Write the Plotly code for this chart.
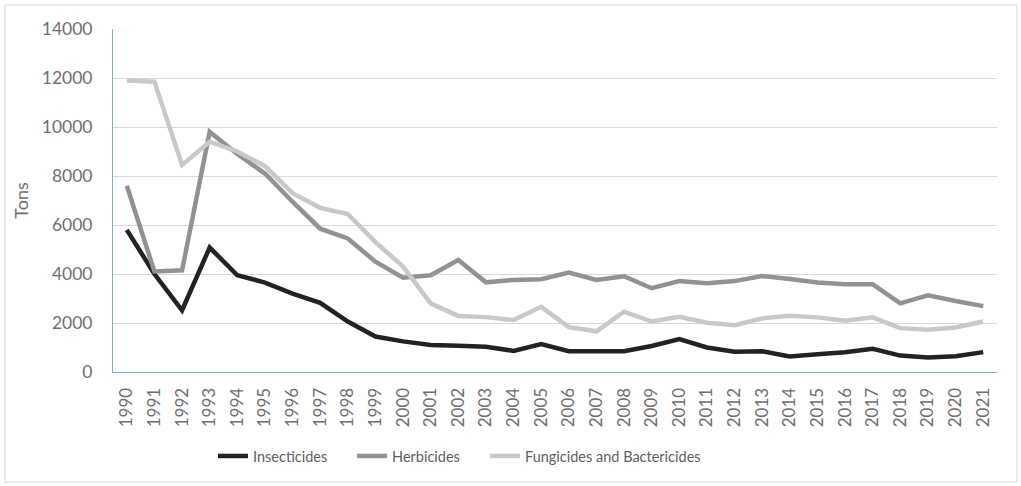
import plotly.graph_objects as go

years = [str(y) for y in range(1990, 2022)]
insecticides = [5800, 4000, 2520, 5080, 3950, 3650, 3200, 2820, 2060, 1450, 1250, 1100, 1070, 1030, 860, 1140,
                850, 860, 850, 1060, 1340, 1000, 830, 850, 630, 720, 810, 950, 670, 590, 640, 810]
herbicides = [7600, 4100, 4150, 9800, 8900, 8100, 6950, 5850, 5450, 4500, 3850, 3950, 4570, 3660, 3760, 3790,
              4060, 3760, 3910, 3420, 3710, 3620, 3710, 3920, 3800, 3650, 3580, 3580, 2800, 3130, 2900, 2690]
fungicides = [11900, 11850, 8450, 9400, 9000, 8400, 7300, 6700, 6450, 5300, 4300, 2800, 2290, 2240, 2120, 2660,
              1830, 1660, 2460, 2060, 2250, 2010, 1910, 2190, 2300, 2230, 2090, 2230, 1790, 1720, 1820, 2060]

series = [
    ("Insecticides", insecticides, "#222222", "legend", 0.1131),
    ("Herbicides", herbicides, "#929296", "legend2", 0.2704),
    ("Fungicides and Bactericides", fungicides, "#c9c9c9", "legend3", 0.4208),
]

fig = go.Figure()
for name, vals, col, lg, _ in series:
    fig.add_trace(go.Scatter(x=years, y=vals, name=name, mode="lines", legend=lg,
                             line=dict(color=col, width=4.5)))

font = "Lato, Carlito, Calibri, sans-serif"
blue = "#74b3e6"
legends = {}
for name, vals, col, lg, lx in series:
    legends[lg] = dict(orientation="h", x=lx, xanchor="left", y=-0.245, yanchor="middle",
                       font=dict(size=14.5, color="#606060"), itemwidth=30,
                       bgcolor="rgba(0,0,0,0)")

fig.update_layout(
    width=1021, height=486,
    margin=dict(l=113, r=24, t=29, b=114),
    paper_bgcolor="white", plot_bgcolor="white",
    font=dict(family=font, size=18, color="#707070"),
    showlegend=True,
    xaxis=dict(type="category", range=[-0.5, 31.5], tickangle=-90, showgrid=False, showline=True,
               linecolor=blue, linewidth=1, ticks="outside", ticklen=8, tickcolor="rgba(0,0,0,0)",
               tickfont=dict(size=17, color="#707070")),
    yaxis=dict(range=[0, 14000], dtick=2000, tickformat="d", showgrid=True, gridcolor="#d9d9d9",
               gridwidth=1, zeroline=False, showline=True, linecolor=blue, linewidth=1,
               ticks="outside", ticklen=16, tickcolor="rgba(0,0,0,0)",
               tickfont=dict(size=17.5, color="#707070"),
               title=dict(text="Tons", font=dict(size=18, color="#707070"), standoff=8)),
    shapes=[dict(type="rect", xref="paper", yref="paper", x0=-0.1222, x1=1.0226, y0=-0.3207, y1=1.07,
                 line=dict(color="#d9d9d9", width=1), fillcolor="rgba(0,0,0,0)", layer="below")],
    **legends,
)

fig.write_html("out.html", config={"displayModeBar": False},
               post_script="document.body.style.margin='0';")
